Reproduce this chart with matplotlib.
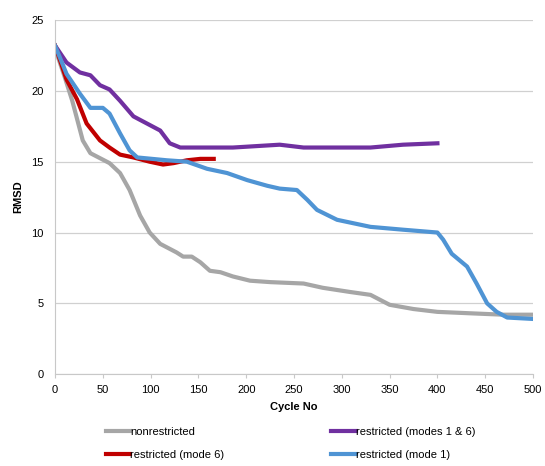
import matplotlib.pyplot as plt

plt.rcParams['font.family'] = ['Liberation Sans', 'DejaVu Sans']

# values
x_nonres = [0, 10, 18, 29, 37, 57, 68, 78, 89, 99, 110, 127, 134, 143, 152, 162, 173, 186, 204, 225,
            260, 280, 309, 330, 350, 375, 400, 434, 469, 500]
y_nonres = [23.0, 21.0, 19.3, 16.5, 15.6, 14.9, 14.2, 13.0, 11.2, 10.0, 9.2, 8.6, 8.3, 8.3, 7.9, 7.3, 7.2,
            6.9, 6.6, 6.5, 6.4, 6.1, 5.8, 5.6, 4.9, 4.6, 4.4, 4.3, 4.2, 4.2]

x_m16 = [0, 12, 26, 37, 47, 57, 68, 82, 96, 110, 120, 131, 186, 235, 260, 295, 330, 364, 400]
y_m16 = [23.2, 22.0, 21.3, 21.1, 20.4, 20.1, 19.3, 18.2, 17.7, 17.2, 16.3, 16.0, 16.0, 16.2, 16.0, 16.0,
         16.0, 16.2, 16.3]

x_m6 = [0, 12, 23, 33, 47, 57, 68, 82, 99, 113, 124, 138, 152, 166]
y_m6 = [23.2, 20.8, 19.4, 17.7, 16.5, 16.0, 15.5, 15.3, 15.0, 14.8, 14.9, 15.1, 15.2, 15.2]

x_m1 = [0, 12, 26, 37, 50, 57, 68, 78, 86, 117, 138, 159, 180, 201, 222, 235, 253, 264, 274, 295,
        330, 364, 400, 406, 415, 431, 441, 452, 462, 473, 500]
y_m1 = [23.2, 21.2, 19.8, 18.8, 18.8, 18.4, 17.0, 15.8, 15.3, 15.1, 15.0, 14.5, 14.2, 13.7, 13.3, 13.1,
        13.0, 12.3, 11.6, 10.9, 10.4, 10.2, 10.0, 9.5, 8.5, 7.6, 6.4, 5.0, 4.4, 4.0, 3.9]

fig = plt.figure(figsize=(5.45, 4.66), dpi=100)
ax = fig.add_axes([0.101, 0.197, 0.877, 0.76])

lw = 3.0
l1, = ax.plot(x_nonres, y_nonres, color='#A6A6A6', lw=lw, label='nonrestricted')
l2, = ax.plot(x_m16, y_m16, color='#7030A0', lw=lw, label='restricted (modes 1 & 6)')
l3, = ax.plot(x_m6, y_m6, color='#C00000', lw=lw, label='restricted (mode 6)')
l4, = ax.plot(x_m1, y_m1, color='#4F94D4', lw=lw, label='restricted (mode 1)')

ax.set_xlim(0, 500)
ax.set_ylim(0, 25)
ax.set_xticks(range(0, 501, 50))
ax.set_yticks(range(0, 26, 5))
ax.grid(axis='y', color='#D0D0D0', lw=0.9)
ax.set_axisbelow(True)
for s in ['top', 'right']:
    ax.spines[s].set_visible(False)
for s in ['left', 'bottom']:
    ax.spines[s].set_color('#C8C8C8')
ax.tick_params(axis='y', length=0, labelsize=8, pad=8)
ax.tick_params(axis='x', length=3, color='#C8C8C8', labelsize=8, pad=5)

ax.set_xlabel('Cycle No', fontsize=8, fontweight='bold', labelpad=5)
ax.set_ylabel('RMSD', fontsize=8, fontweight='bold', labelpad=6)

fig.legend([l1, l3, l2, l4], [l1.get_label(), l3.get_label(), l2.get_label(), l4.get_label()],
           ncol=2, loc='lower center', bbox_to_anchor=(0.533, -0.008), frameon=False, fontsize=8,
           handlelength=2.2, handletextpad=0.0, columnspacing=9.6, labelspacing=1.15)

fig.savefig('out.png', dpi=100)
